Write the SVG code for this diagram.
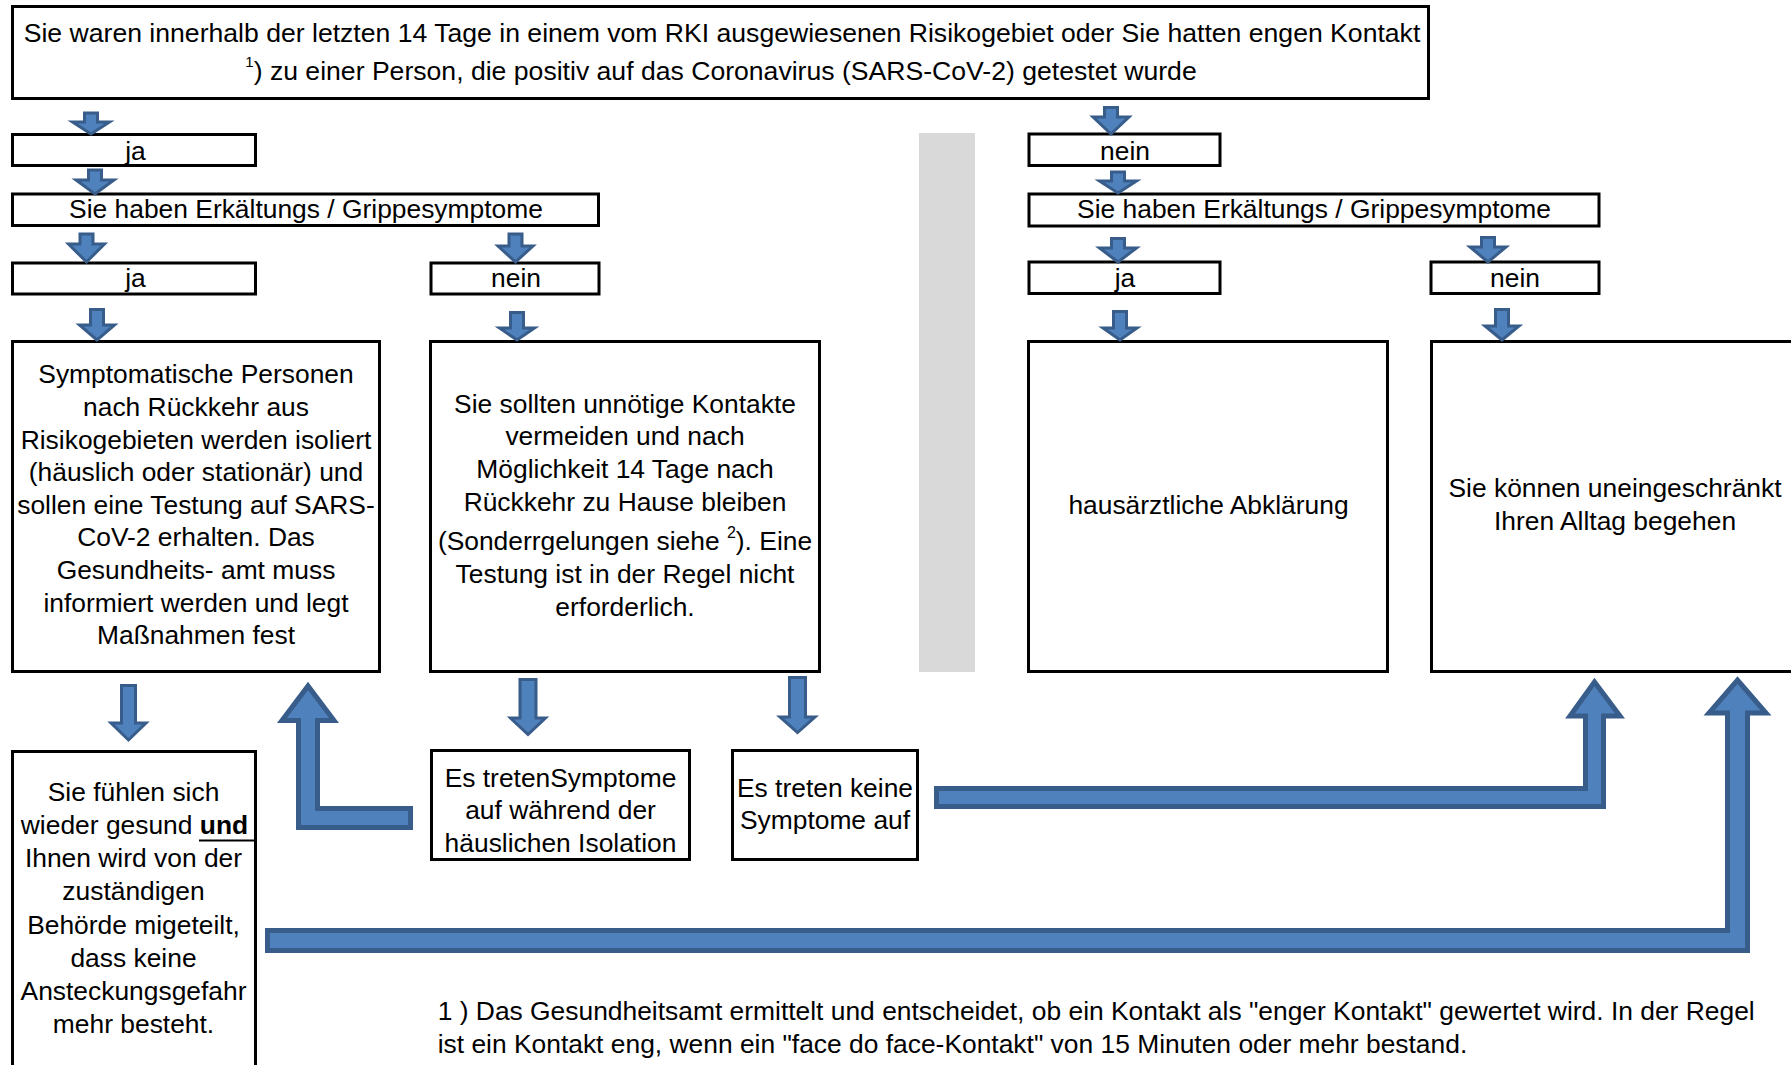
<svg xmlns="http://www.w3.org/2000/svg" width="1791" height="1065" viewBox="0 0 1791 1065">
<style>
.box{fill:#fff;stroke:#000;stroke-width:3}
.t{font-family:"Liberation Sans",Arial,sans-serif;font-size:26.4px;fill:#000;text-anchor:middle}
.tt{font-family:"Liberation Sans",Arial,sans-serif;font-size:26.6px;fill:#000;text-anchor:middle}
.fn{font-family:"Liberation Sans",Arial,sans-serif;font-size:26.4px;fill:#000}
.sa{fill:#4F81BD;stroke:#385D8A;stroke-width:3}
.ba{fill:#4F81BD;stroke:#385D8A;stroke-width:5}
</style>
<rect width="1791" height="1065" fill="#fff"/>
<rect id="divider" x="919" y="133" width="56" height="539" fill="#D9D9D9"/>

<g id="start">
<rect class="box" x="12.5" y="6.5" width="1416" height="92"/>
<text class="tt" x="722" y="41.7">Sie waren innerhalb der letzten 14 Tage in einem vom RKI ausgewiesenen Risikogebiet oder Sie hatten engen Kontakt</text>
<text class="tt" x="721" y="80"><tspan font-size="15" dy="-13">1</tspan><tspan dy="13">) zu einer Person, die positiv auf das Coronavirus (SARS-CoV-2) getestet wurde</tspan></text>
</g>

<g id="ja1">
<rect class="box" x="12.5" y="134.5" width="243" height="31"/>
<text class="t" x="135.5" y="160">ja</text>
</g>
<g id="symL">
<rect class="box" x="12.5" y="194" width="586" height="31.5"/>
<text class="t" x="306" y="218.3">Sie haben Erkältungs / Grippesymptome</text>
</g>
<g id="ja2">
<rect class="box" x="12.5" y="263" width="243" height="31"/>
<text class="t" x="135.5" y="286.7">ja</text>
</g>
<g id="neinL">
<rect class="box" x="431" y="263" width="168" height="31"/>
<text class="t" x="516" y="286.7">nein</text>
</g>

<g id="nein1">
<rect class="box" x="1029" y="134" width="191" height="31.5"/>
<text class="t" x="1125" y="159.5">nein</text>
</g>
<g id="symR">
<rect class="box" x="1029" y="194" width="570" height="32"/>
<text class="t" x="1314" y="218.3">Sie haben Erkältungs / Grippesymptome</text>
</g>
<g id="jaR">
<rect class="box" x="1029" y="262" width="191" height="31.5"/>
<text class="t" x="1125" y="286.7">ja</text>
</g>
<g id="neinR">
<rect class="box" x="1431" y="262" width="168" height="31.5"/>
<text class="t" x="1515" y="286.7">nein</text>
</g>

<g id="isolation">
<rect class="box" x="12.5" y="341.5" width="367" height="330"/>
<text class="t" x="196" y="383.3">Symptomatische Personen</text>
<text class="t" x="196" y="415.9">nach Rückkehr aus</text>
<text class="t" x="196" y="448.5">Risikogebieten werden isoliert</text>
<text class="t" x="196" y="481.1">(häuslich oder stationär) und</text>
<text class="t" x="196" y="513.7">sollen eine Testung auf SARS-</text>
<text class="t" x="196" y="546.3">CoV-2 erhalten. Das</text>
<text class="t" x="196" y="578.9">Gesundheits- amt muss</text>
<text class="t" x="196" y="611.5">informiert werden und legt</text>
<text class="t" x="196" y="644.1">Maßnahmen fest</text>
</g>

<g id="avoid">
<rect class="box" x="430.5" y="341.5" width="389" height="330"/>
<text class="t" x="625" y="412.7">Sie sollten unnötige Kontakte</text>
<text class="t" x="625" y="445">vermeiden und nach</text>
<text class="t" x="625" y="477.7">Möglichkeit 14 Tage nach</text>
<text class="t" x="625" y="511">Rückkehr zu Hause bleiben</text>
<text class="t" x="625" y="550">(Sonderrgelungen siehe <tspan font-size="16" dy="-12">2</tspan><tspan dy="12">). Eine</tspan></text>
<text class="t" x="625" y="583.3">Testung ist in der Regel nicht</text>
<text class="t" x="625" y="615.7">erforderlich.</text>
</g>

<g id="gp">
<rect class="box" x="1028.5" y="341.5" width="359" height="330"/>
<text class="t" x="1208.5" y="514.3">hausärztliche Abklärung</text>
</g>

<g id="normal">
<rect class="box" x="1431.5" y="341.5" width="400" height="330"/>
<text class="t" x="1615" y="496.7">Sie können uneingeschränkt</text>
<text class="t" x="1615" y="530">Ihren Alltag begehen</text>
</g>

<g id="recovered">
<rect class="box" x="12.5" y="751.5" width="243" height="330"/>
<text class="t" x="133.5" y="800.7">Sie fühlen sich</text>
<text class="t" x="134.5" y="834">wieder gesund <tspan font-weight="bold">und</tspan></text>
<line x1="199" y1="840.5" x2="255" y2="840.5" stroke="#000" stroke-width="2"/>
<text class="t" x="133.5" y="867.2">Ihnen wird von der</text>
<text class="t" x="133.5" y="900.4">zuständigen</text>
<text class="t" x="133.5" y="933.6">Behörde migeteilt,</text>
<text class="t" x="133.5" y="966.8">dass keine</text>
<text class="t" x="133.5" y="1000">Ansteckungsgefahr</text>
<text class="t" x="133.5" y="1033">mehr besteht.</text>
</g>

<g id="symptoms">
<rect class="box" x="431.5" y="750.5" width="258" height="109"/>
<text class="t" x="560.5" y="786.7">Es tretenSymptome</text>
<text class="t" x="560.5" y="819.3">auf während der</text>
<text class="t" x="560.5" y="852">häuslichen Isolation</text>
</g>

<g id="nosymptoms">
<rect class="box" x="732.5" y="750.5" width="185" height="109"/>
<text class="t" x="825" y="796.7">Es treten keine</text>
<text class="t" x="825" y="829.3">Symptome auf</text>
</g>

<g id="footnote">
<text class="fn" x="437.7" y="1019.5">1 ) Das Gesundheitsamt ermittelt und entscheidet, ob ein Kontakt als "enger Kontakt" gewertet wird. In der Regel</text>
<text class="fn" x="437.7" y="1052.5">ist ein Kontakt eng, wenn ein "face do face-Kontakt" von 15 Minuten oder mehr bestand.</text>
</g>

<g id="connectors">
<path class="sa" d="M84.5,113 H97.5 V122 H109.5 L91,134 L72.5,122 H84.5 Z"/>
<path class="sa" d="M88.5,170 H101.5 V180 H114 L95,194 L76,180 H88.5 Z"/>
<path class="sa" d="M80,234 H93 V244 H104.5 L86.5,262 L68.5,244 H80 Z"/>
<path class="sa" d="M509,234 H522 V246 H533 L515.5,262 L498,246 H509 Z"/>
<path class="sa" d="M90.5,309.5 H103.5 V325 H114.5 L97,340 L79.5,325 H90.5 Z"/>
<path class="sa" d="M510.5,312.5 H523.5 V328 H534.5 L517,340 L499.5,328 H510.5 Z"/>
<path class="sa" d="M1104.5,107.5 H1117.5 V117 H1129 L1111,134 L1093,117 H1104.5 Z"/>
<path class="sa" d="M1111.5,172 H1124.5 V181 H1136.5 L1118,193 L1099.5,181 H1111.5 Z"/>
<path class="sa" d="M1111.5,238.5 H1124.5 V248 H1136.5 L1118,262 L1099.5,248 H1111.5 Z"/>
<path class="sa" d="M1481.5,237.5 H1494.5 V247 H1506 L1488,262 L1470,247 H1481.5 Z"/>
<path class="sa" d="M1113.5,311.5 H1126.5 V328 H1137 L1120,340 L1103,328 H1113.5 Z"/>
<path class="sa" d="M1495.5,309.5 H1508.5 V326 H1519 L1502,340 L1485,326 H1495.5 Z"/>
<path class="sa" d="M121.5,685.5 H135.5 V723 H146 L128.5,740 L111,723 H121.5 Z"/>
<path class="sa" d="M520,679.5 H536 V718 H545.5 L528,734.5 L510.5,718 H520 Z"/>
<path class="sa" d="M789.5,677.5 H805.5 V717 H815 L797.5,732.5 L780,717 H789.5 Z"/>
<path class="ba" d="M298.5,827.5 V720.5 H282 L308,686 L334,720.5 H317.5 V808.5 H410.5 V827.5 Z"/>
<path class="ba" d="M936.5,788.5 H1585.5 V716 H1570 L1594.5,682 L1620,716 H1603.5 V806.5 H936.5 Z"/>
<path class="ba" d="M267.5,930.5 H1727.5 V713 H1709 L1737.5,680 L1766,713 H1747.5 V950.5 H267.5 Z"/>
</g>
</svg>
